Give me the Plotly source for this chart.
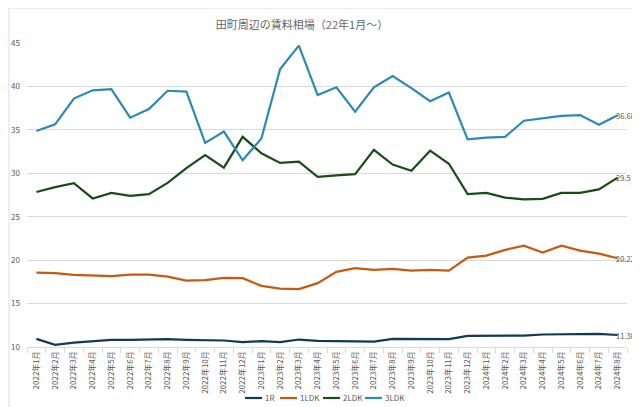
import plotly.graph_objects as go

months = [f"2022年{m}月" for m in range(1, 13)] + [f"2023年{m}月" for m in range(1, 13)] + [f"2024年{m}月" for m in range(1, 9)]

r1 = [10.94, 10.25, 10.51, 10.70, 10.82, 10.82, 10.90, 10.90, 10.82, 10.82, 10.75, 10.56,
      10.67, 10.56, 10.86, 10.70, 10.70, 10.70, 10.63, 10.94, 10.94, 10.90, 10.90, 11.28,
      11.28, 11.32, 11.32, 11.44, 11.44, 11.44, 11.52, 11.38]
ldk1 = [18.57, 18.50, 18.30, 18.22, 18.15, 18.34, 18.34, 18.10, 17.65, 17.70, 17.95, 17.92,
        17.04, 16.73, 16.66, 17.35, 18.65, 19.07, 18.88, 19.00, 18.80, 18.88, 18.80, 20.30,
        20.52, 21.18, 21.67, 20.87, 21.67, 21.10, 20.75, 20.22]
ldk2 = [27.85, 28.40, 28.85, 27.10, 27.75, 27.40, 27.60, 28.90, 30.60, 32.10, 30.65, 34.20,
        32.30, 31.20, 31.35, 29.60, 29.75, 29.90, 32.70, 31.00, 30.30, 32.60, 31.10, 27.60,
        27.75, 27.20, 27.00, 27.05, 27.75, 27.75, 28.15, 29.50]
ldk3 = [34.87, 35.64, 38.60, 39.55, 39.70, 36.40, 37.40, 39.50, 39.40, 33.50, 34.80, 31.50,
        34.00, 42.00, 44.70, 39.00, 39.90, 37.10, 39.90, 41.20, 39.80, 38.30, 39.30, 33.90,
        34.10, 34.20, 36.05, 36.30, 36.60, 36.70, 35.60, 36.68]

names = ["1R", "1LDK", "2LDK", "3LDK"]
values = [r1, ldk1, ldk2, ldk3]
colors = ["#103a55", "#c55a11", "#174d17", "#2b8ab3"]

# figure geometry (pixels inside the figure)
W, H = 632, 399
ML, MR, MT, MB = 19, 13, 35, 60
PW, PH = W - ML - MR, H - MT - MB


def px(fx):
    return (fx - ML) / PW


def py(fy):
    return (H - MB - fy) / PH


legend_x = [237, 272, 315, 357]   # start of legend line, figure px
legend_y = 390

fig = go.Figure()
shapes = [dict(type="rect", xref="paper", yref="paper",
               x0=px(1), x1=px(626), y0=py(H + 5), y1=py(0),
               line=dict(color="#dddddd", width=1), layer="below")]
annotations = []
for name, vals, col, lx in zip(names, values, colors, legend_x):
    fig.add_trace(go.Scatter(
        x=months, y=vals, name=name, mode="lines",
        line=dict(color=col, width=2.2), showlegend=False,
    ))
    annotations.append(dict(x=months[-1], y=vals[-1], text=f"{vals[-1]:g}",
                            xanchor="left", yanchor="middle", xshift=-4, showarrow=False,
                            font=dict(size=7.5, color="#555555")))
    shapes.append(dict(type="line", xref="paper", yref="paper",
                       x0=px(lx), x1=px(lx + 17), y0=py(legend_y), y1=py(legend_y),
                       line=dict(color=col, width=2.2)))
    annotations.append(dict(xref="paper", yref="paper", x=px(lx + 18), y=py(legend_y),
                            text=name, xanchor="left", yanchor="middle", showarrow=False,
                            font=dict(size=8, color="#595959")))

fig.update_layout(
    width=W, height=H,
    paper_bgcolor="white", plot_bgcolor="white",
    margin=dict(l=ML, r=MR, t=MT, b=MB, autoexpand=False),
    title=dict(text="田町周辺の賃料相場（22年1月～）", xref="paper", x=px(294), xanchor="center",
               y=1 - 17 / H, yanchor="middle",
               font=dict(size=11, color="#666666", family="Noto Sans CJK JP")),
    font=dict(family="Noto Sans CJK JP", color="#595959"),
    showlegend=False,
    shapes=shapes,
    annotations=annotations,
)
fig.update_xaxes(type="category", range=[-0.5, 31.5], tickangle=-90,
                 tickfont=dict(size=8, color="#595959"),
                 showgrid=False, showline=True, linecolor="#d9d9d9",
                 ticks="outside", tickson="boundaries", ticklen=5, tickcolor="#d9d9d9")
fig.update_yaxes(range=[10, 45], dtick=5, showgrid=True, gridcolor="#d9d9d9",
                 tickfont=dict(size=8, color="#595959"), zeroline=False,
                 ticks="", ticklabelstandoff=6)

fig.write_html("out.html")
